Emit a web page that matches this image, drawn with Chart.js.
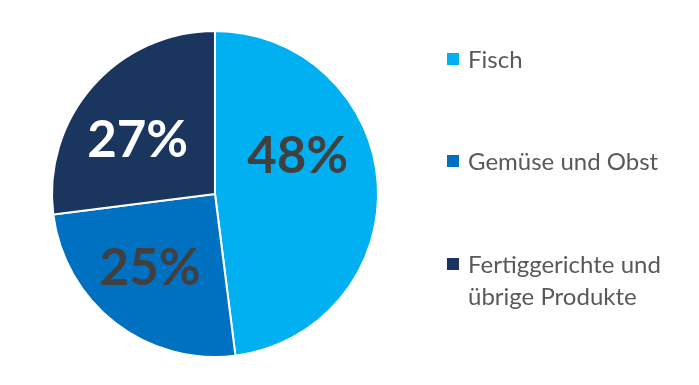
<!DOCTYPE html>
<html>
<head>
<meta charset="utf-8">
<script src="https://cdn.jsdelivr.net/npm/chart.js@4"></script>
<style>
  html, body { margin: 0; padding: 0; background: #fff; }
  #wrap { position: relative; width: 699px; height: 385px; }
  #legend { position: absolute; left: 447px; top: 0; font-family: Lato, sans-serif; font-size: 24px; color: #595959; }
  .item { position: absolute; left: 0; white-space: nowrap; line-height: 32px; }
  .box { position: absolute; left: 0; width: 12px; height: 12px; }
  .txt { position: absolute; left: 21px; }
</style>
</head>
<body>
<div id="wrap">
  <canvas id="chart" width="699" height="385"></canvas>
  <div id="legend"></div>
</div>
<script>
// Anteile in Prozent
const kategorien = ['Fisch', 'Gemüse und Obst', 'Fertiggerichte und übrige Produkte'];
const anteile = [48, 25, 27];
const legendeZeilen = [['Fisch'], ['Gemüse und Obst'], ['Fertiggerichte und', 'übrige Produkte']];

const farben = ['#00B0F0', '#0070C0', '#1A365E'];
const textFarben = ['#404040', '#404040', '#FFFFFF'];
// kleine Verschiebung der Prozentwerte (px), wie im Original
const labelVersatz = [[-15, -33], [-5, -5], [-4, 9]];

// Prozentwerte in die Segmente schreiben
const prozentLabels = {
    id: 'prozentLabels',
    afterDatasetsDraw(chart) {
        const ctx = chart.ctx;
        const meta = chart.getDatasetMeta(0);
        ctx.save();
        ctx.font = 'bold 51px Lato, sans-serif';
        ctx.textAlign = 'center';
        ctx.textBaseline = 'middle';
        meta.data.forEach((arc, i) => {
            const p = arc.getProps(['x', 'y', 'startAngle', 'endAngle', 'outerRadius'], true);
            const mitte = (p.startAngle + p.endAngle) / 2;
            const x = p.x + Math.cos(mitte) * p.outerRadius * 0.6 + labelVersatz[i][0];
            const y = p.y + Math.sin(mitte) * p.outerRadius * 0.6 + labelVersatz[i][1];
            ctx.fillStyle = textFarben[i];
            ctx.fillText(anteile[i] + '%', x, y + 2);
        });
        ctx.restore();
    }
};

new Chart(document.getElementById('chart'), {
    type: 'pie',
    data: {
        labels: kategorien,
        datasets: [{
            data: anteile,
            backgroundColor: farben,
            borderColor: '#ffffff',
            borderWidth: 2
        }]
    },
    options: {
        responsive: false,
        animation: false,
        layout: { padding: { top: 30, bottom: 27, left: 51, right: 320 } },
        plugins: {
            legend: { display: false },
            tooltip: { enabled: false }
        }
    },
    plugins: [prozentLabels]
});

// Legende rechts
const legendTops = [59, 161, 264];
const legende = document.getElementById('legend');
legendeZeilen.forEach((zeilen, i) => {
    const item = document.createElement('div');
    item.className = 'item';
    item.style.top = (legendTops[i] - 16) + 'px';
    item.innerHTML = '<div class="box" style="top:10px;background:' + farben[i] + '"></div>' +
        '<div class="txt">' + zeilen.join('<br>') + '</div>';
    legende.appendChild(item);
});
</script>
</body>
</html>
